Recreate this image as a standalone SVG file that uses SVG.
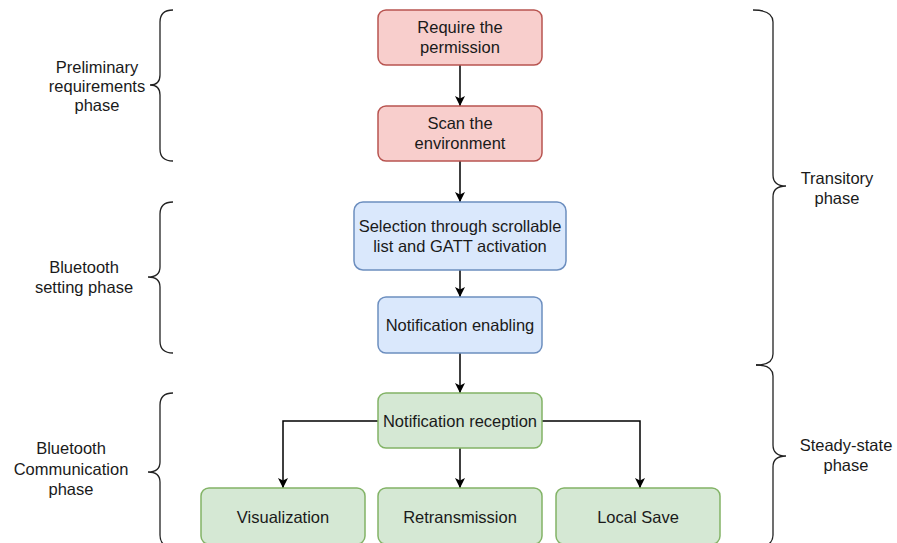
<svg xmlns="http://www.w3.org/2000/svg" width="897" height="543" viewBox="0 0 897 543">
<style>
text{font-family:"Liberation Sans",Arial,sans-serif;font-size:16.5px;fill:#1a1a1a;text-anchor:middle}
.red{fill:#f8cecc;stroke:#b85450;stroke-width:1.5}
.blue{fill:#dae8fc;stroke:#6c8ebf;stroke-width:1.5}
.green{fill:#d5e8d4;stroke:#82b366;stroke-width:1.5}
.edge{fill:none;stroke:#000;stroke-width:1.5}
.brace{fill:none;stroke:#222;stroke-width:1.3}
</style>
<defs>
<marker id="ah" viewBox="0 0 10 10" refX="10" refY="5" markerWidth="10" markerHeight="10" markerUnits="userSpaceOnUse" orient="auto">
<path d="M0,0 L10,5 L0,10 L2.5,5 Z" fill="#000"/>
</marker>
</defs>
<rect width="897" height="543" fill="#fff"/>
<g id="braces">
<path class="brace" d="M173,10 Q160,10 160,22 L160,75 Q160,85 150,85 Q160,85 160,95 L160,149 Q160,161 173,161"/>
<path class="brace" d="M173,202 Q160,202 160,214 L160,267 Q160,277 148,277 Q160,277 160,287 L160,341 Q160,353 173,353"/>
<path class="brace" d="M173,393 Q160,393 160,405 L160,462 Q160,472 148,472 Q160,472 160,482 L160,535 Q160,547 173,547"/>
<path class="brace" d="M753,10 Q773,10 773,22 L773,175 Q773,186 786,186 Q773,186 773,197 L773,354 Q773,365 756,365"/>
<path class="brace" d="M756,365 Q773,365 773,376 L773,445 Q773,456 786,456 Q773,456 773,467 L773,535 Q773,547 756,547"/>
</g>
<g id="labels">
<text x="97" y="73">Preliminary</text>
<text x="97" y="92">requirements</text>
<text x="97" y="111">phase</text>
<text x="84" y="273">Bluetooth</text>
<text x="84" y="293">setting phase</text>
<text x="71" y="454">Bluetooth</text>
<text x="71" y="475">Communication</text>
<text x="71" y="495">phase</text>
<text x="837" y="184">Transitory</text>
<text x="837" y="204">phase</text>
<text x="846" y="451">Steady-state</text>
<text x="846" y="471">phase</text>
</g>
<g id="connectors">
<path class="edge" d="M460,65 L460,106" marker-end="url(#ah)"/>
<path class="edge" d="M460,161 L460,202" marker-end="url(#ah)"/>
<path class="edge" d="M460,270 L460,297" marker-end="url(#ah)"/>
<path class="edge" d="M460,353 L460,393" marker-end="url(#ah)"/>
<path class="edge" d="M460,448 L460,488" marker-end="url(#ah)"/>
<path class="edge" d="M378,421 L283,421 L283,488" marker-end="url(#ah)"/>
<path class="edge" d="M542,421 L640,421 L640,488" marker-end="url(#ah)"/>
</g>
<g id="n1"><rect class="red" x="378" y="10" width="164" height="55" rx="8"/><text x="460" y="33">Require the</text><text x="460" y="53">permission</text></g>
<g id="n2"><rect class="red" x="378" y="106" width="164" height="55" rx="8"/><text x="460" y="129">Scan the</text><text x="460" y="149">environment</text></g>
<g id="n3"><rect class="blue" x="354" y="202" width="212" height="68" rx="9"/><text x="460" y="232">Selection through scrollable</text><text x="460" y="252">list and GATT activation</text></g>
<g id="n4"><rect class="blue" x="378" y="297" width="164" height="56" rx="8"/><text x="460" y="331">Notification enabling</text></g>
<g id="n5"><rect class="green" x="378" y="393" width="164" height="55" rx="8"/><text x="460" y="427">Notification reception</text></g>
<g id="n6"><rect class="green" x="201" y="488" width="164" height="56" rx="8"/><text x="283" y="523">Visualization</text></g>
<g id="n7"><rect class="green" x="378" y="488" width="164" height="56" rx="8"/><text x="460" y="523">Retransmission</text></g>
<g id="n8"><rect class="green" x="556" y="488" width="164" height="56" rx="8"/><text x="638" y="523">Local Save</text></g>
</svg>
